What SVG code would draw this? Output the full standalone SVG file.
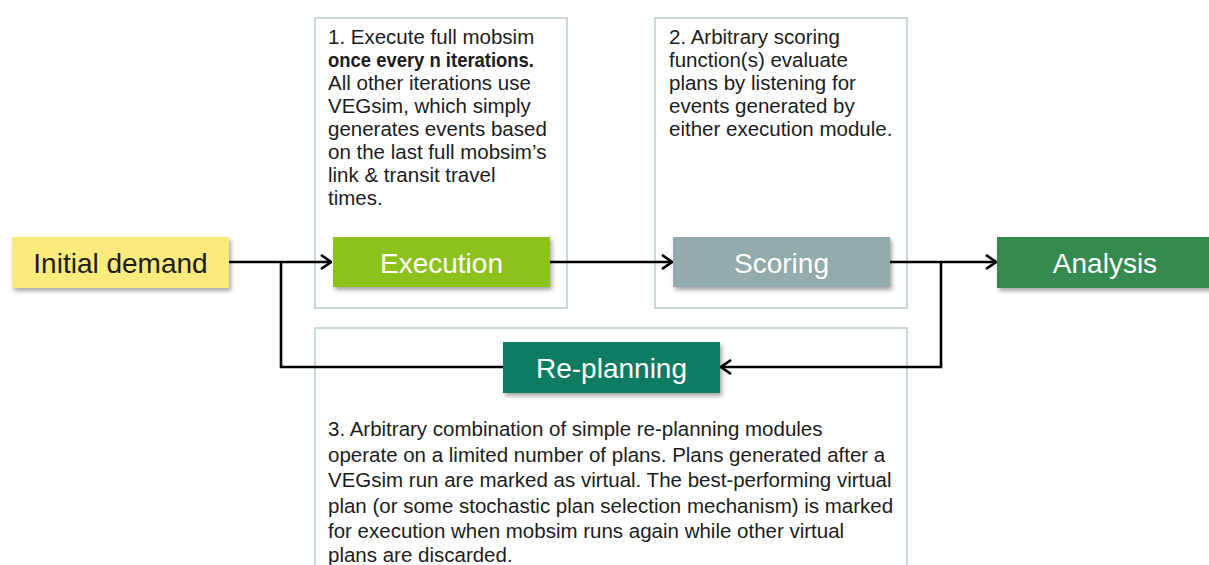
<svg xmlns="http://www.w3.org/2000/svg" width="1209" height="565" viewBox="0 0 1209 565">
<style>
.frame{fill:#ffffff;stroke:#b9cbcb;stroke-width:1.5}
.desc{font-family:"Liberation Sans",Arial,sans-serif;font-size:20.5px;fill:#1c1c1c}
.lbl{font-family:"Liberation Sans",Arial,sans-serif;font-size:28px;fill:#ffffff;text-anchor:middle}
.conn{fill:none;stroke:#000000;stroke-width:2.6}
</style>
<defs>
<filter id="sh" x="-10%" y="-20%" width="130%" height="160%">
<feDropShadow dx="2" dy="3" stdDeviation="2" flood-color="#000000" flood-opacity="0.35"/>
</filter>
<marker id="arr" viewBox="0 0 12 16" refX="11" refY="8" markerWidth="12" markerHeight="16" markerUnits="userSpaceOnUse" orient="auto">
<path d="M1,1 L11,8 L1,15" fill="none" stroke="#000000" stroke-width="2.6"/>
</marker>
</defs>
<rect width="1209" height="565" fill="#ffffff"/>

<g id="frame-execution">
<rect class="frame" x="315" y="18" width="252" height="290"/>
<text class="desc" x="328" y="44">1. Execute full mobsim</text>
<text class="desc" x="328" y="67" font-weight="bold" textLength="206" lengthAdjust="spacingAndGlyphs">once every n iterations.</text>
<text class="desc" x="328" y="90">All other iterations use</text>
<text class="desc" x="328" y="113">VEGsim, which simply</text>
<text class="desc" x="328" y="136">generates events based</text>
<text class="desc" x="328" y="159">on the last full mobsim’s</text>
<text class="desc" x="328" y="182">link &amp; transit travel</text>
<text class="desc" x="328" y="205">times.</text>
</g>

<g id="frame-scoring">
<rect class="frame" x="655" y="18" width="252" height="290"/>
<text class="desc" x="669" y="44">2. Arbitrary scoring</text>
<text class="desc" x="669" y="67">function(s) evaluate</text>
<text class="desc" x="669" y="90">plans by listening for</text>
<text class="desc" x="669" y="113">events generated by</text>
<text class="desc" x="669" y="136">either execution module.</text>
</g>

<g id="frame-replanning">
<rect class="frame" x="315" y="328" width="592" height="250"/>
<text class="desc" x="328" y="436">3. Arbitrary combination of simple re-planning modules</text>
<text class="desc" x="328" y="461.5">operate on a limited number of plans. Plans generated after a</text>
<text class="desc" x="328" y="487">VEGsim run are marked as virtual. The best-performing virtual</text>
<text class="desc" x="328" y="512.5">plan (or some stochastic plan selection mechanism) is marked</text>
<text class="desc" x="328" y="538">for execution when mobsim runs again while other virtual</text>
<text class="desc" x="328" y="562">plans are discarded.</text>
</g>

<g id="connectors">
<path class="conn" d="M229,262 H331" marker-end="url(#arr)"/>
<path class="conn" d="M550,262 H672" marker-end="url(#arr)"/>
<path class="conn" d="M890,262 H996" marker-end="url(#arr)"/>
<path class="conn" d="M941,262 V367 H721" marker-end="url(#arr)"/>
<path class="conn" d="M503,367 H281 V262"/>
</g>

<g id="node-initial-demand">
<rect x="12" y="237" width="217" height="51" fill="#fbea7c" filter="url(#sh)"/>
<text x="120.5" y="273" class="lbl" style="fill:#1c1c1c">Initial demand</text>
</g>

<g id="node-execution">
<rect x="333" y="237" width="217" height="50" fill="#8dc21f" filter="url(#sh)"/>
<text x="441.5" y="273" class="lbl">Execution</text>
</g>

<g id="node-scoring">
<rect x="673" y="237" width="217" height="50" fill="#93abaa" filter="url(#sh)"/>
<text x="781.5" y="273" class="lbl">Scoring</text>
</g>

<g id="node-analysis">
<rect x="997" y="237" width="217" height="51" fill="#358a4f" filter="url(#sh)"/>
<text x="1105" y="273" class="lbl">Analysis</text>
</g>

<g id="node-replanning">
<rect x="503" y="342" width="217" height="51" fill="#0c7b64" filter="url(#sh)"/>
<text x="611.5" y="378" class="lbl">Re-planning</text>
</g>
</svg>
